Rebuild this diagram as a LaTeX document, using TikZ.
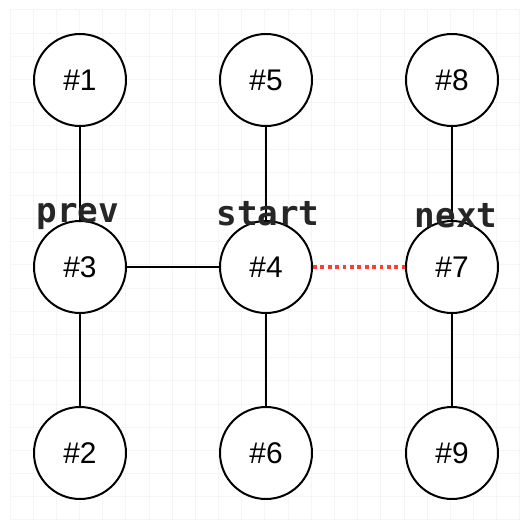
\documentclass[tikz,border=0pt]{standalone}
\usepackage{fontspec}
\setmainfont{Liberation Sans}
\newfontfamily\codefont{DejaVu Sans Mono}

\begin{document}
\begin{tikzpicture}[x=0.02cm, y=-0.02cm,
    vertex/.style={draw, circle, fill=white, line width=0.04cm, minimum size=1.84cm, inner sep=0pt, font=\fontsize{17pt}{20pt}\selectfont},
    edge/.style={line width=0.04cm},
    gridline/.style={draw=black!4, line width=0.02cm},
    tag/.style={anchor=base, inner sep=0pt, text=black!85, font=\codefont\bfseries\fontsize{19.5pt}{22pt}\selectfont}]
    % 背景
    \fill[white] (0,0) rectangle (530,530);
    \useasboundingbox (0,0) rectangle (530,530);
    \foreach \k in {0,...,22} {
        \draw[gridline] ({10+23.18*\k},10) -- ({10+23.18*\k},520);
        \draw[gridline] (10,{10+23.18*\k}) -- (520,{10+23.18*\k});
    }

    % 节点
    \node[vertex] (n1) at (80,80) {\#1};
    \node[vertex] (n5) at (266,80) {\#5};
    \node[vertex] (n8) at (452,80) {\#8};
    \node[vertex] (n3) at (80,267) {\#3};
    \node[vertex] (n4) at (266,267) {\#4};
    \node[vertex] (n7) at (452,267) {\#7};
    \node[vertex] (n2) at (80,453) {\#2};
    \node[vertex] (n6) at (266,453) {\#6};
    \node[vertex] (n9) at (452,453) {\#9};

    % 连线
    \draw[edge] (n1) -- (n3);
    \draw[edge] (n3) -- (n2);
    \draw[edge] (n3) -- (n4);
    \draw[edge] (n5) -- (n4);
    \draw[edge] (n4) -- (n6);
    \draw[edge] (n8) -- (n7);
    \draw[edge] (n7) -- (n9);
    \draw[line width=0.075cm, color={rgb,255:red,255;green,60;blue,50}, dash pattern=on 0.075cm off 0.073cm] (n4) -- (n7);

    % 标签
    \node[tag] (prev) at (78,222) {prev};
    \node[tag] (start) at (268,225) {start};
    \node[tag] (next) at (456,227) {next};
\end{tikzpicture}
\end{document}
